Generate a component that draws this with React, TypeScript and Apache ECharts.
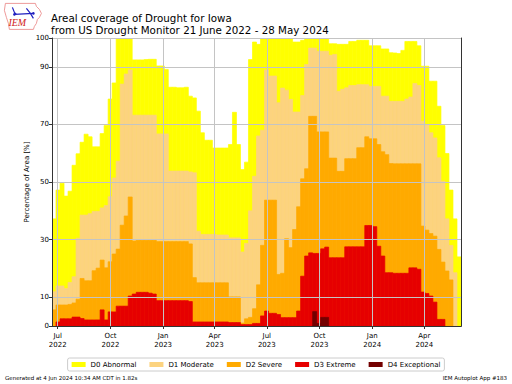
import React, { useEffect, useRef } from 'react';
import * as echarts from 'echarts';

const START_DATE = '2022-06-21';
const END_DATE = '2024-06-04';

const D0 = [37.2, 47.2, 49.6, 45.1, 46.8, 55.8, 59.8, 63.8, 66.6, 65.7,
  62.2, 62.2, 66.8, 69.6, 78.8, 84.4, 99.9, 100, 100, 100,
  92.4, 92.4, 92.4, 92.5, 92.6, 92.6, 90.3, 90.3, 89.1, 82.9,
  82.9, 82.7, 82.7, 82.9, 79.8, 79.2, 74.6, 67.1, 64.5, 64.5,
  61.8, 61.8, 61.8, 61.8, 63.0, 74.2, 63.0, 54.3, 56.9, 92.5,
  98.6, 97.8, 99.7, 99.7, 99.7, 99.7, 99.7, 99.7, 99.7, 99.7,
  98.6, 98.6, 99.2, 99.7, 99.7, 99.7, 99.7, 99.7, 99.7, 98.0,
  98.0, 97.8, 97.8, 97.8, 98.8, 98.8, 99.2, 99.2, 99.2, 97.3,
  97.3, 97.3, 96.2, 96.2, 94.9, 94.8, 94.6, 95.7, 98.8, 98.8,
  98.8, 97.3, 90.2, 90.2, 85.0, 85.0, 76.3, 69.6, 59.9, 47.2,
  37.2, 24.0];

const D1 = [11.9, 13.9, 13.9, 13.0, 15.1, 17.1, 30.5, 38.5, 38.5, 39.0,
  39.8, 39.8, 41.0, 41.8, 44.9, 51.4, 57.2, 84.0, 87.5, 88.9,
  73.2, 73.2, 73.2, 73.2, 73.2, 73.2, 66.7, 66.7, 66.7, 53.8,
  53.8, 53.8, 53.8, 53.8, 53.5, 53.2, 32.9, 31.8, 31.8, 31.8,
  31.8, 31.6, 31.6, 31.6, 30.6, 30.6, 30.6, 25.7, 28.7, 40.0,
  52.0, 66.0, 68.0, 88.9, 86.8, 86.8, 77.5, 82.6, 81.9, 78.7,
  74.3, 74.3, 80.0, 90.8, 96.5, 96.5, 95.4, 95.4, 95.4, 94.0,
  94.3, 81.5, 82.2, 82.7, 83.5, 83.5, 83.8, 83.8, 83.8, 83.2,
  83.2, 83.2, 79.8, 79.8, 78.0, 78.0, 78.0, 78.0, 78.8, 79.5,
  84.2, 83.5, 71.1, 69.9, 67.1, 65.3, 58.4, 50.3, 37.2, 28.0,
  18.5, 0];

const D2 = [5.6, 7.3, 7.3, 7.3, 7.5, 8.0, 9.3, 16.5, 15.7, 15.7,
  19.2, 20.1, 22.9, 20.2, 22.3, 25.0, 26.7, 35.0, 38.2, 44.8,
  29.5, 29.8, 29.8, 29.8, 29.8, 29.8, 29.3, 29.3, 29.3, 29.3,
  29.3, 29.3, 29.3, 29.3, 28.5, 16.8, 15.0, 15.0, 15.0, 15.0,
  15.0, 15.0, 15.0, 15.0, 10.1, 10.1, 10.1, 1.0, 2.5, 3.0,
  6.0, 14.3, 28.0, 43.7, 43.7, 43.7, 17.9, 18.3, 30.3, 27.2,
  33.5, 41.4, 51.1, 54.6, 72.8, 72.8, 67.4, 67.4, 67.4, 58.3,
  58.3, 53.7, 53.7, 58.1, 58.1, 58.1, 61.9, 61.9, 65.7, 65.0,
  65.0, 63.0, 60.5, 59.5, 56.4, 56.3, 56.3, 56.3, 56.3, 56.3,
  56.3, 56.3, 34.7, 33.3, 32.1, 31.2, 26.6, 22.2, 19.1, 16.0,
  0, 0];

const D3 = [0, 1.4, 2.5, 2.5, 2.5, 3.1, 3.1, 2.6, 2.1, 2.1,
  2.1, 2.1, 5.6, 2.1, 4.9, 4.9, 6.9, 6.9, 6.9, 10.4,
  11.1, 11.7, 11.7, 11.7, 11.4, 11.1, 8.8, 8.8, 8.8, 8.8,
  8.8, 8.8, 8.8, 8.8, 8.5, 1.4, 1.4, 1.4, 1.4, 1.4,
  1.4, 1.4, 1.4, 1.4, 1.2, 1.2, 1.2, 0.5, 0.5, 0.5,
  0.9, 0.9, 3.5, 5.2, 4.4, 4.4, 4.0, 2.9, 2.9, 2.9,
  2.9, 5.2, 17.3, 24.3, 25.4, 25.2, 25.2, 26.8, 27.4, 23.7,
  23.7, 23.7, 23.7, 27.5, 27.5, 27.5, 27.5, 27.5, 34.9, 34.9,
  34.5, 27.7, 24.3, 18.5, 18.5, 18.3, 18.3, 18.3, 18.3, 20.2,
  20.2, 19.7, 11.8, 11.3, 10.4, 8.3, 2.3, 2.3, 0, 0,
  0, 0];

const D4 = [0, 0, 0, 0, 0, 0, 0, 0, 0, 0,
  0, 0, 0, 0, 0, 0, 0, 0, 0, 0,
  0, 0, 0, 0, 0, 0, 0, 0, 0, 0,
  0, 0, 0, 0, 0, 0, 0, 0, 0, 0,
  0, 0, 0, 0, 0, 0, 0, 0, 0, 0,
  0, 0, 0, 0, 0, 0, 0, 0, 0, 0,
  0, 0, 0, 0, 0, 5.0, 0.9, 3.0, 3.0, 0,
  0, 0, 0, 0, 0, 0, 0, 0, 0, 0,
  0, 0, 0, 0, 0, 0, 0, 0, 0, 0,
  0, 0, 0, 0, 0, 0, 0, 0, 0, 0,
  0, 0];

const SERIES_NAMES = ['D0 Abnormal', 'D1 Moderate', 'D2 Severe', 'D3 Extreme', 'D4 Exceptional'];
const SERIES_VALUES = [D0, D1, D2, D3, D4];
const COLORS = ['#ffff00', '#fcd37f', '#ffaa00', '#e60000', '#730000'];

const X_TICK_DATES = ['2022-07-01', '2022-10-01', '2023-01-01', '2023-04-01', '2023-07-01', '2023-10-01', '2024-01-01', '2024-04-01'];
const Y_TICKS = [0, 10, 30, 50, 70, 90, 100];
const MONTHS = ['Jan', 'Feb', 'Mar', 'Apr', 'May', 'Jun', 'Jul', 'Aug', 'Sep', 'Oct', 'Nov', 'Dec'];

const TITLE_1 = 'Areal coverage of Drought for Iowa';
const TITLE_2 = 'from US Drought Monitor 21 June 2022 - 28 May 2024';
const FOOT_LEFT = 'Generated at 4 Jun 2024 10:34 AM CDT in 1.82s';
const FOOT_RIGHT = 'IEM Autoplot App #183';
const Y_NAME = 'Percentage of Area [%]';

const FONT = 'DejaVu Sans';
const WEEK_MS = 7 * 86400000;

function parseDate(s: string): number {
  const [y, m, d] = s.split('-').map(Number);
  return Date.UTC(y, m - 1, d);
}

export default function App() {
  const ref = useRef<HTMLDivElement>(null);

  useEffect(() => {
    if (!ref.current) return;
    const chart = echarts.init(ref.current, null, { renderer: 'svg' });
    const t0 = parseDate(START_DATE);
    const tEnd = parseDate(END_DATE);
    const xTicks = X_TICK_DATES.map(parseDate);

    const series = SERIES_VALUES.map((vals, k) => {
      const data = vals.map((v, i) => [t0 + i * WEEK_MS, Math.min(t0 + (i + 1) * WEEK_MS, tEnd), v]);
      return {
        name: SERIES_NAMES[k],
        type: 'custom',
        data,
        encode: { x: [0, 1], y: 2 },
        itemStyle: { color: COLORS[k] },
        z: 2 + k,
        silent: true,
        clip: true,
        renderItem: (params: any, api: any) => {
          const v = api.value(2);
          if (!v) return null;
          const pTop = api.coord([api.value(0), v]);
          const pBot = api.coord([api.value(1), 0]);
          return {
            type: 'rect',
            shape: { x: pTop[0], y: pTop[1], width: pBot[0] - pTop[0], height: pBot[1] - pTop[1] },
            style: { fill: COLORS[k], stroke: COLORS[k], lineWidth: 0.7 },
          };
        },
      };
    });

    const axisLine = { show: true, lineStyle: { color: '#333', width: 1 } };

    chart.setOption({
      animation: false,
      backgroundColor: '#ffffff',
      textStyle: { fontFamily: FONT },
      grid: { left: 52, right: 51, top: 38, bottom: 58, containLabel: false },
      legend: {
        data: SERIES_NAMES,
        left: 'center',
        top: 358,
        icon: 'rect',
        itemWidth: 14,
        itemHeight: 5,
        itemGap: 13,
        padding: [3, 4, 3, 4],
        borderColor: '#cccccc',
        borderWidth: 1,
        borderRadius: 2,
        textStyle: { fontFamily: FONT, fontSize: 7, color: '#000' },
      },
      xAxis: [
        {
          type: 'value',
          min: t0,
          max: tEnd,
          z: 10,
          axisLine,
          axisTick: { show: true, customValues: xTicks, length: 3, lineStyle: { color: '#333' } },
          axisLabel: {
            customValues: xTicks,
            fontFamily: FONT,
            fontSize: 7,
            color: '#000',
            margin: 6,
            lineHeight: 8.5,
            formatter: (v: number) => {
              const d = new Date(v);
              return MONTHS[d.getUTCMonth()] + '\n' + d.getUTCFullYear();
            },
          },
          splitLine: { show: true, lineStyle: { color: '#c4c4c4', width: 1 } },
        },
        {
          type: 'value',
          position: 'top',
          min: t0,
          max: tEnd,
          z: 10,
          axisLine,
          axisTick: { show: false },
          axisLabel: { show: false },
          splitLine: { show: false },
        },
      ],
      yAxis: [
        {
          type: 'value',
          min: 0,
          max: 100,
          z: 10,
          axisLine,
          axisTick: { show: true, customValues: Y_TICKS, length: 3, lineStyle: { color: '#333' } },
          axisLabel: { customValues: Y_TICKS, fontFamily: FONT, fontSize: 7, color: '#000', margin: 3 },
          splitLine: { show: true, lineStyle: { color: '#c4c4c4', width: 1 } },
        },
        {
          type: 'value',
          position: 'right',
          min: 0,
          max: 100,
          z: 10,
          axisLine,
          axisTick: { show: false },
          axisLabel: { show: false },
          splitLine: { show: false },
        },
      ],
      series,
      graphic: [
        { type: 'text', left: 51, top: 13, style: { text: TITLE_1, font: `10.3px "${FONT}"`, fill: '#000' } },
        { type: 'text', left: 51, top: 25, style: { text: TITLE_2, font: `10.3px "${FONT}"`, fill: '#000' } },
        {
          type: 'text',
          x: 27,
          y: 182,
          rotation: Math.PI / 2,
          style: { text: Y_NAME, font: `7px "${FONT}"`, fill: '#000', align: 'center', verticalAlign: 'middle' },
        },
        { type: 'text', left: 5, top: 375, style: { text: FOOT_LEFT, font: `5.5px "${FONT}"`, fill: '#000' } },
        { type: 'text', right: 5, top: 375, style: { text: FOOT_RIGHT, font: `5.5px "${FONT}"`, fill: '#000' } },
        {
          type: 'group',
          left: 4,
          top: 3,
          children: [
            {
              type: 'polygon',
              shape: {
                points: [[2, 1], [32, 1], [33, 4], [36, 7], [38, 11], [36, 15], [34, 17], [33, 21], [31, 24], [30, 27], [6, 27], [5, 21], [3, 15], [1, 8]],
              },
              style: { fill: '#ffffff', stroke: '#e88080', lineWidth: 0.8 },
            },
            { type: 'polyline', shape: { points: [[9, 5], [11, 10], [13, 12]] }, style: { stroke: '#2020c0', lineWidth: 1.2, fill: 'none' } },
            { type: 'polyline', shape: { points: [[11, 12], [30, 11]] }, style: { stroke: '#2020c0', lineWidth: 1.4, fill: 'none' } },
            { type: 'polyline', shape: { points: [[23, 6], [27, 11], [30, 16]] }, style: { stroke: '#2020c0', lineWidth: 1.2, fill: 'none' } },
            { type: 'circle', shape: { cx: 11, cy: 12, r: 1.3 }, style: { fill: '#2020c0' } },
            { type: 'circle', shape: { cx: 30, cy: 11, r: 1.3 }, style: { fill: '#2020c0' } },
            { type: 'text', x: 5, y: 15, style: { text: 'IEM', font: 'italic 10px "Liberation Serif"', fill: '#d02020' } },
          ],
        },
      ],
    });

    return () => chart.dispose();
  }, []);

  return <div ref={ref} style={{ position: 'fixed', left: 0, top: 0, width: 512, height: 384, background: '#fff' }} />;
}
